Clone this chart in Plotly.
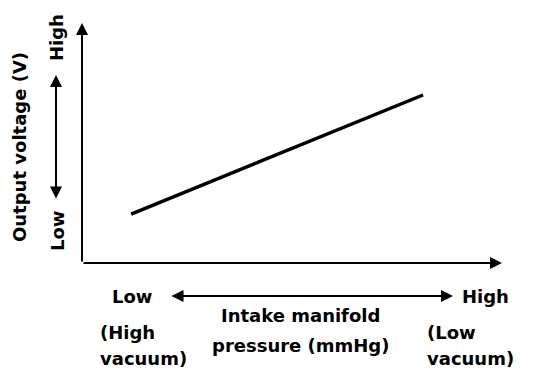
import plotly.graph_objects as go

# Data (normalised axis units 0-10)
pressure = [1.17, 8.12]
voltage = [2.04, 7.0]

x_label = ["Intake manifold", "pressure (mmHg)"]
y_label = "Output voltage (V)"
x_low = ["Low", "(High", "vacuum)"]
x_high = ["High", "(Low", "vacuum)"]
y_low = "Low"
y_high = "High"

W, H = 544, 380
OFF = 8  # page body offset
L, R, T, B = 82 - OFF, 42 + OFF, 23 - OFF, 117 + OFF
pw, ph = W - L - R, H - T - B

def px(x):
    return (x - OFF - L) / pw

def py(y):
    return (H - B - (y - OFF)) / ph

FONT = dict(family="DejaVu Sans", size=18, color="black", weight="bold")
XD, YD = "x domain", "y domain"

fig = go.Figure()
fig.add_trace(go.Scatter(x=pressure, y=voltage, mode="lines",
                         line=dict(color="black", width=3.5), showlegend=False,
                         hoverinfo="skip"))

ann = []
# axes with arrowheads
ann.append(dict(x=10, y=0, ax=0, ay=0, xref="x", yref="y", axref="x", ayref="y",
                showarrow=True, arrowhead=2, arrowsize=1.2, arrowwidth=2,
                arrowcolor="black", text=""))
ann.append(dict(x=0, y=10, ax=0, ay=0, xref="x", yref="y", axref="x", ayref="y",
                showarrow=True, arrowhead=2, arrowsize=1.2, arrowwidth=2,
                arrowcolor="black", text=""))
# double arrows
ann.append(dict(x=px(453), y=py(296), ax=px(170), ay=py(296), xref=XD, yref=YD,
                axref=XD, ayref=YD, showarrow=True, arrowhead=2, startarrowhead=2,
                arrowside="end+start", arrowsize=1.2, startarrowsize=1.2, arrowwidth=2,
                arrowcolor="black", text=""))
ann.append(dict(x=px(56), y=py(75), ax=px(56), ay=py(200), xref=XD, yref=YD,
                axref=XD, ayref=YD, showarrow=True, arrowhead=2, startarrowhead=2,
                arrowside="end+start", arrowsize=1.2, startarrowsize=1.2, arrowwidth=2,
                arrowcolor="black", text=""))

def txt(s, x, y, xanchor="center", angle=0):
    return dict(text=s, x=px(x), y=py(y), xref="paper", yref="paper", showarrow=False,
                xanchor=xanchor, yanchor="middle", textangle=angle, font=FONT)

ann.append(txt(y_label, 19, 147, angle=-90))
ann.append(txt(y_high, 56, 38, angle=-90))
ann.append(txt(y_low, 57, 231, angle=-90))
ann.append(txt(x_low[0], 132, 296))
ann.append(txt(x_high[0], 485, 296))
ann.append(txt(x_label[0], 300, 315))
ann.append(txt(x_label[1], 300, 345))
ann.append(txt(x_low[1], 98, 332, xanchor="left"))
ann.append(txt(x_low[2], 98, 358, xanchor="left"))
ann.append(txt(x_high[1], 425, 332, xanchor="left"))
ann.append(txt(x_high[2], 425, 358, xanchor="left"))

fig.update_layout(
    width=W, height=H,
    margin=dict(l=L, r=R, t=T, b=B),
    paper_bgcolor="white", plot_bgcolor="white",
    xaxis=dict(range=[0, 10], showgrid=False, zeroline=False, showticklabels=False,
               ticks="", showline=False),
    yaxis=dict(range=[0, 10], showgrid=False, zeroline=False, showticklabels=False,
               ticks="", showline=False),
    annotations=ann,
)

fig.write_html("out.html")
